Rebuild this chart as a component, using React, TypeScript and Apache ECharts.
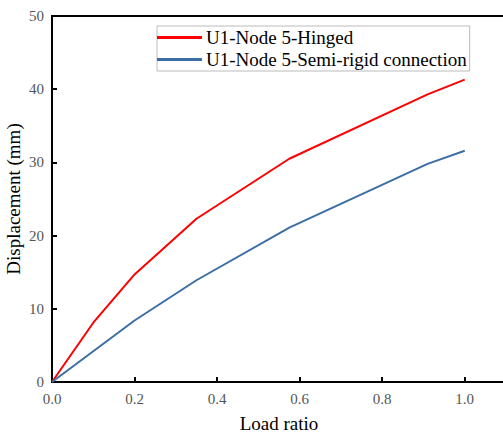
import React, { useEffect, useRef } from "react";
import * as echarts from "echarts";

const loadRatioHinged = [0, 0.1, 0.2, 0.35, 0.575, 0.91, 1.0];
const dispHinged = [0, 8.1, 14.7, 22.3, 30.5, 39.3, 41.3];
const loadRatioSemi = [0, 0.1, 0.2, 0.35, 0.575, 0.91, 1.0];
const dispSemi = [0, 4.2, 8.4, 13.9, 21.1, 29.8, 31.6];
const seriesNames = ["U1-Node 5-Hinged", "U1-Node 5-Semi-rigid connection"];
const FONT = "Liberation Serif";

export default function App() {
  const ref = useRef<HTMLDivElement>(null);
  useEffect(() => {
    if (!ref.current) return;
    const chart = echarts.init(ref.current, undefined, { renderer: "svg" });
    chart.setOption({
      animation: false,
      grid: {
        left: 52,
        top: 16,
        bottom: 52,
        right: -3,
        containLabel: false,
        outerBoundsMode: "none",
        show: true,
        borderColor: "#000",
        borderWidth: 2,
      },
      legend: {
        left: 157,
        top: 26,
        orient: "vertical",
        itemWidth: 45,
        itemHeight: 3,
        itemGap: 3,
        padding: [2, 3, 2, 0],
        borderColor: "#bbb",
        borderWidth: 1,
        textStyle: { fontFamily: FONT, fontSize: 19, color: "#000", padding: [0, 0, 0, -1] },
        icon: "rect",
        data: seriesNames,
      },
      xAxis: {
        type: "value",
        min: 0,
        max: 1.1,
        interval: 0.2,
        name: "Load ratio",
        nameLocation: "middle",
        nameGap: 32,
        nameMoveOverlap: false,
        nameTextStyle: { fontFamily: FONT, fontSize: 19, color: "#000" },
        axisLine: { lineStyle: { color: "#000", width: 2 } },
        axisTick: { inside: true, length: 5, lineStyle: { color: "#000", width: 2 } },
        axisLabel: {
          fontFamily: FONT,
          fontSize: 15,
          color: "#555",
          margin: 9,
          showMaxLabel: false,
          formatter: (v: number) => (v > 1.01 ? "" : v.toFixed(1)),
        },
        splitLine: { show: false },
      },
      yAxis: {
        type: "value",
        min: 0,
        max: 50,
        interval: 10,
        name: "Displacement (mm)",
        nameLocation: "middle",
        nameGap: 29,
        nameMoveOverlap: false,
        nameTextStyle: { fontFamily: FONT, fontSize: 19, color: "#000" },
        axisLine: { lineStyle: { color: "#000", width: 2 } },
        axisTick: { inside: true, length: 5, lineStyle: { color: "#000", width: 2 } },
        axisLabel: { fontFamily: FONT, fontSize: 15, color: "#555", margin: 8 },
        splitLine: { show: false },
      },
      series: [
        {
          name: seriesNames[0],
          type: "line",
          data: loadRatioHinged.map((x, i) => [x, dispHinged[i]]),
          showSymbol: false,
          lineStyle: { color: "#ff0000", width: 2 },
          itemStyle: { color: "#ff0000" },
        },
        {
          name: seriesNames[1],
          type: "line",
          data: loadRatioSemi.map((x, i) => [x, dispSemi[i]]),
          showSymbol: false,
          lineStyle: { color: "#3b6ea5", width: 2 },
          itemStyle: { color: "#3b6ea5" },
        },
      ],
    });
    return () => chart.dispose();
  }, []);
  return <div ref={ref} style={{ width: 503, height: 434, position: "absolute", left: 0, top: 0 }} />;
}
